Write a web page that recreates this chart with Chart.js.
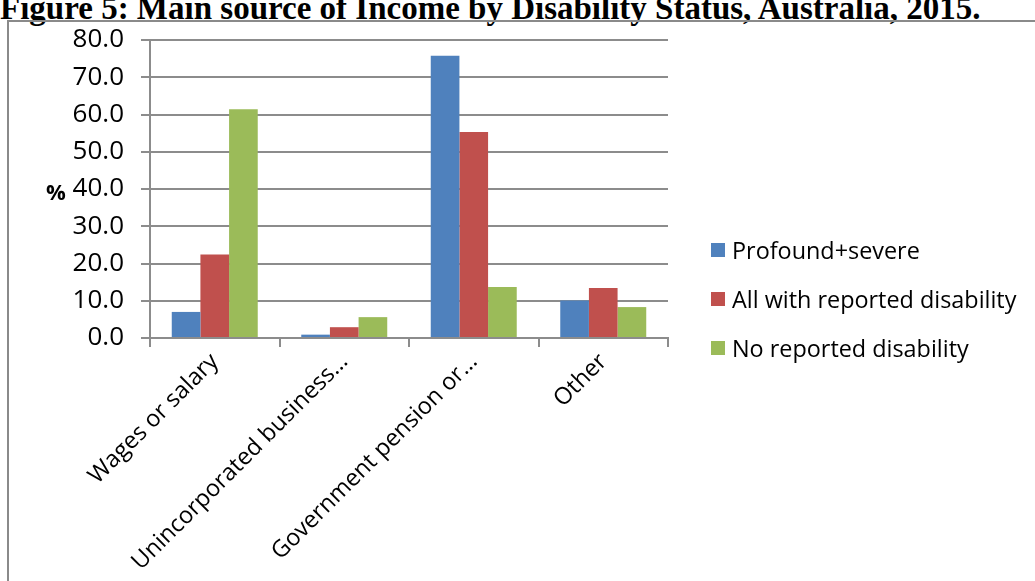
<!DOCTYPE html>
<html>
<head>
<meta charset="utf-8">
<script src="https://cdn.jsdelivr.net/npm/chart.js@4.4.1/dist/chart.umd.min.js"></script>
<style>
  html, body { margin: 0; padding: 0; background: #fff; }
  #wrap { position: relative; width: 1035px; height: 581px; overflow: hidden; background: #fff; }
  #title { position: absolute; left: 0; top: -8px; font: bold 33px "Liberation Serif", "Times New Roman", serif; line-height: 33px; white-space: nowrap; color: #000; }
  #frame { position: absolute; left: 7px; top: 20px; width: 1100px; height: 700px; border: 2px solid #8a8a8a; }
  #topSources { position: absolute; left: 0; top: 0; }
  #pct { position: absolute; left: 46px; font: bold 22px "Open Sans", sans-serif; line-height: 24px; color: #000; }
  #legend { position: absolute; left: 711px; font: 23.4px "Open Sans", sans-serif; color: #000; }
  .legendRow { display: flex; align-items: center; height: 48.75px; white-space: nowrap; }
  .legendBox { width: 14px; height: 14px; margin-right: 7px; }
</style>
</head>
<body>
<div id="wrap">
  <div id="title">Figure 5: Main source of Income by Disability Status, Australia, 2015.</div>
  <div id="frame"></div>
  <canvas id="topSources" width="1035" height="581"></canvas>
  <div id="pct">%</div>
  <div id="legend"></div>
</div>
<script>
var categories = ['Wages or salary', 'Unincorporated business\u2026', 'Government pension or\u2026', 'Other'];
var seriesNames = ['Profound+severe', 'All with reported disability', 'No reported disability'];
var seriesColors = ['#4F81BD', '#C0504D', '#9BBB59'];

// % of people in each group, by main source of income
var profoundSevere = [7.0, 0.9, 75.8, 10.1];
var allWithDisability = [22.4, 2.9, 55.3, 13.4];
var noDisability = [61.4, 5.6, 13.7, 8.3];

var yMin = 0;
var yMax = 80;
var yStep = 10;

var axisGrey = '#8c8c8c';

var ctx = document.getElementById('topSources').getContext('2d');
var sourcesChart = new Chart(ctx, chartConfig());

buildLegend(sourcesChart);
placePercentLabel(sourcesChart);

function chartConfig(){
    var values = [profoundSevere, allWithDisability, noDisability];
    var datasets = [];
    for(i = 0; i < values.length; i++){
        datasets.push({
            label: seriesNames[i],
            data: values[i],
            backgroundColor: seriesColors[i],
            borderWidth: 0,
            barPercentage: 1,
            categoryPercentage: 0.664
        });
    }

    return {
        type: 'bar',
        data: {
            labels: categories,
            datasets: datasets
        },
        options: {
            responsive: false,
            animation: false,
            devicePixelRatio: 1,
            layout: {
                padding: { left: 0, top: 40, right: 367, bottom: 0 }
            },
            plugins: {
                legend: { display: false },
                tooltip: { enabled: false }
            },
            scales: {
                x: {
                    afterFit: function(scale){ scale.height = 243; },
                    grid: {
                        display: true,
                        drawOnChartArea: false,
                        offset: true,
                        tickLength: 9,
                        color: axisGrey,
                        lineWidth: 2
                    },
                    border: { color: axisGrey, width: 2 },
                    ticks: {
                        autoSkip: false,
                        minRotation: 45,
                        maxRotation: 45,
                        padding: 1,
                        color: '#000',
                        font: { family: 'Open Sans', size: 23.5 }
                    }
                },
                y: {
                    min: yMin,
                    max: yMax,
                    afterFit: function(scale){ scale.width = 150; },
                    grid: {
                        color: axisGrey,
                        lineWidth: 2,
                        tickLength: 9
                    },
                    border: { color: axisGrey, width: 2 },
                    ticks: {
                        stepSize: yStep,
                        padding: 17,
                        color: '#000',
                        font: { family: 'Open Sans', size: 26 },
                        callback: function(v){ return v.toFixed(1); }
                    }
                }
            }
        }
    };
}

function buildLegend(chart){
    var box = document.getElementById('legend');
    var rowHeight = 48.75;
    box.style.top = (250 - rowHeight / 2) + 'px';
    chart.data.datasets.forEach(function(ds){
        var row = document.createElement('div');
        row.className = 'legendRow';
        var swatch = document.createElement('span');
        swatch.className = 'legendBox';
        swatch.style.background = ds.backgroundColor;
        var text = document.createElement('span');
        text.textContent = ds.label;
        row.appendChild(swatch);
        row.appendChild(text);
        box.appendChild(row);
    });
}

function placePercentLabel(chart){
    // unit label sits level with the middle gridline
    var y = chart.scales.y.getPixelForValue(40);
    document.getElementById('pct').style.top = (y - 10) + 'px';
}
</script>
</body>
</html>
